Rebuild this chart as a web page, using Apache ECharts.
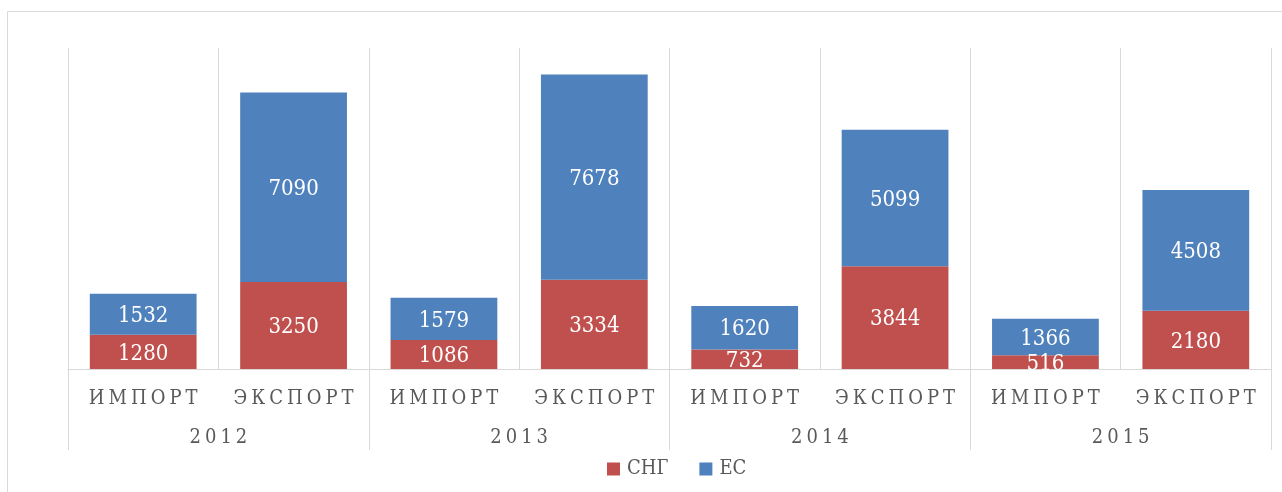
<!DOCTYPE html>
<html><head><meta charset="utf-8">
<script src="https://cdn.jsdelivr.net/npm/echarts@6/dist/echarts.min.js"></script>
<style>html,body{margin:0;padding:0;background:#fff}#c{width:1282px;height:492px}</style>
</head><body><div id="c"></div>
<script>
const years = ['2012', '2013', '2014', '2015'];
const flows = ['ИМПОРТ', 'ЭКСПОРТ', 'ИМПОРТ', 'ЭКСПОРТ', 'ИМПОРТ', 'ЭКСПОРТ', 'ИМПОРТ', 'ЭКСПОРТ'];
const cis = [1280, 3250, 1086, 3334, 732, 3844, 516, 2180];
const eu = [1532, 7090, 1579, 7678, 1620, 5099, 1366, 4508];
const seriesNames = ['СНГ', 'ЕС'];

// letter spacing for axis labels only (text stays real text)
const SPACED = new Set(flows.concat(years));
const SPACING = 4;
const origFill = CanvasRenderingContext2D.prototype.fillText;
CanvasRenderingContext2D.prototype.fillText = function (t, x, y, m) {
  const spaced = SPACED.has(String(t)) && ('letterSpacing' in this);
  let dx = 0;
  if (spaced) {
    this.letterSpacing = SPACING + 'px';
    const f = this.font; this.font = f;
    if (this.textAlign === 'center') dx = SPACING / 2;
  } else if ('letterSpacing' in this && this.letterSpacing !== '0px') {
    this.letterSpacing = '0px';
    const f = this.font; this.font = f;
  }
  if (m === undefined) origFill.call(this, t, x + dx, y); else origFill.call(this, t, x + dx, y, m);
  if (spaced) {
    this.letterSpacing = '0px';
    const f = this.font; this.font = f;
  }
};

const FONT = '"DejaVu Serif Condensed", "DejaVu Serif", serif';
const grey = '#595959';
const lineC = '#D9D9D9';

const chart = echarts.init(document.getElementById('c'), null, { renderer: 'canvas' });
chart.setOption({
  animation: false,
  graphic: [{
    type: 'rect', shape: { x: 7.5, y: 11.5, width: 1300, height: 500 },
    style: { fill: 'none', stroke: '#D9D9D9', lineWidth: 1 }, silent: true, z: -10
  }],
  grid: { left: 68, right: 11, top: 48, bottom: 123 },
  legend: {
    data: seriesNames, left: 607, top: 459, padding: 0, itemWidth: 13, itemHeight: 13, itemGap: 31,
    icon: 'rect',
    textStyle: { fontFamily: FONT, fontSize: 20, color: grey, padding: [0, 0, 0, 2] }
  },
  xAxis: [{
    type: 'category', data: flows, position: 'bottom',
    axisLine: { show: true, lineStyle: { color: lineC, width: 1 } },
    axisTick: { show: false },
    splitLine: { show: true, interval: 0, lineStyle: { color: lineC, width: 1 } },
    axisLabel: { interval: 0, margin: 20, fontFamily: FONT, fontSize: 20, color: grey }
  }, {
    type: 'category', data: years, position: 'bottom',
    axisLine: { show: false },
    axisTick: { show: true, length: 81, interval: 0, lineStyle: { color: lineC, width: 1 } },
    axisLabel: { interval: 0, margin: 59, fontFamily: FONT, fontSize: 20, color: grey }
  }],
  yAxis: { type: 'value', min: 0, max: 12000, show: false, splitLine: { show: false } },
  series: [{
    name: seriesNames[0], type: 'bar', stack: 't', data: cis, barWidth: '71%', xAxisIndex: 0,
    itemStyle: { color: '#C0504D' },
    label: { show: true, position: 'inside', offset: [0, 2], color: '#fff', fontFamily: FONT, fontSize: 22 }
  }, {
    name: seriesNames[1], type: 'bar', stack: 't', data: eu, barWidth: '71%', xAxisIndex: 0,
    itemStyle: { color: '#4F81BD' },
    label: { show: true, position: 'inside', offset: [0, 2], color: '#fff', fontFamily: FONT, fontSize: 22 }
  }]
});
</script></body></html>
